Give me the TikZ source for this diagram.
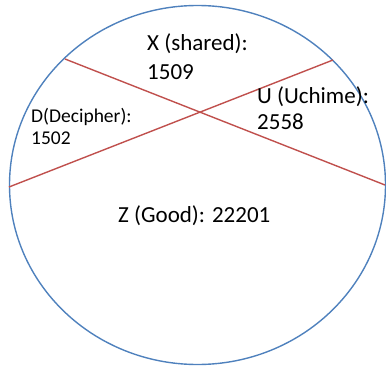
\documentclass[tikz,border=0pt]{standalone}
\usepackage{fontspec}
\setmainfont{Carlito}
\definecolor{ringblue}{RGB}{79,129,189}
\definecolor{cutred}{RGB}{192,80,77}
\tikzset{
  ring/.style={draw=ringblue, line width=1.4pt},
  cut/.style={draw=cutred, line width=1.4pt},
  region/.style={anchor=base west, inner sep=0pt, align=left}
}
\begin{document}
\begin{tikzpicture}[x=1pt, y=-1pt]
    \useasboundingbox (0,0) rectangle (386,369);

    % Draw the circle
    \draw[ring] (197.5,185) ellipse (188 and 179.5);

    % Cut lines
    \coordinate (a1) at (65,59);
    \coordinate (a2) at (385,185);
    \coordinate (b1) at (9,187);
    \coordinate (b2) at (333,60);
    \draw[cut] (a1) -- (a2);
    \draw[cut] (b1) -- (b2);

    % Region labels (base of the last line)
    \node[region, font=\fontsize{23}{29}\selectfont] (shared) at (147,80) {X (shared):\\1509};
    \node[region, font=\fontsize{19.5}{23}\selectfont] (decipher) at (31,145) {D(Decipher):\\1502};
    \node[region, font=\fontsize{23}{27}\selectfont] (uchime) at (257,130) {U (Uchime):\\2558};
    \node[region, font=\fontsize{23}{29}\selectfont] (good) at (118,222) {Z (Good): 22201};
\end{tikzpicture}
\end{document}
